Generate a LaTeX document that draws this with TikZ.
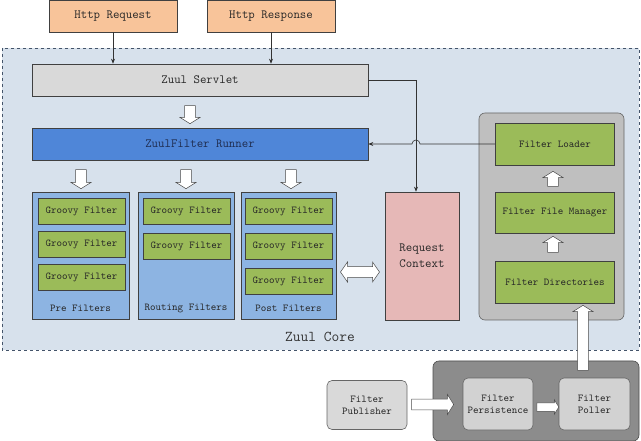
\documentclass[tikz,border=0pt]{standalone}
\usepackage{fontspec}
\usetikzlibrary{arrows.meta,shapes.arrows,positioning}

\definecolor{reqorange}{HTML}{F8C49A}
\definecolor{corebg}{HTML}{D7E1EC}
\definecolor{corefg}{HTML}{44546A}
\definecolor{servgray}{HTML}{D9D9D9}
\definecolor{runnerblue}{HTML}{4F86D8}
\definecolor{runnertext}{HTML}{1F2D50}
\definecolor{groupblue}{HTML}{8DB4E2}
\definecolor{groovygreen}{HTML}{9BBB59}
\definecolor{ctxpink}{HTML}{E6B8B7}
\definecolor{loadergray}{HTML}{BFBFBF}
\definecolor{pollgray}{HTML}{8C8C8C}
\definecolor{pubgray}{HTML}{D9D9D9}
\definecolor{persgray}{HTML}{D2D2D2}

\tikzset{
  box/.style={draw=black!75, line width=0.6pt, inner sep=0pt, text=black!85,
    font=\ttfamily\fontsize{10.5}{12}\selectfont},
  bigtext/.style={font=\ttfamily\fontsize{12.5}{16}\selectfont},
  greenbox/.style={box, fill=groovygreen, minimum width=87, minimum height=26},
  groupbox/.style={box, fill=groupblue, minimum height=127},
  softbox/.style={box, rounded corners=5, draw=black!60, align=center},
  harrow/.style={draw=black!70, fill=white, inner sep=5pt, line width=0.5pt},
  hollow/.style={harrow, single arrow, minimum width=20, single arrow head extend=4.5,
    single arrow tip angle=116},
  link/.style={-{Stealth[length=5pt,width=4pt]}, line width=0.6pt, draw=black!80},
}

\begin{document}
\begin{tikzpicture}[x=1pt,y=-1pt]
\useasboundingbox (0,0) rectangle (641,441);
% zuul core frame
\draw[dashed, draw=corefg, fill=corebg, line width=0.6pt] (2,48) rectangle (639,350);
\node[font=\ttfamily\fontsize{15}{17}\selectfont, text=black!80] (corelabel) at (320,337) {Zuul Core};

% http boxes
\node[box, bigtext, fill=reqorange, minimum width=128, minimum height=32] (request) at (113,16) {Http Request};
\node[box, bigtext, fill=reqorange, minimum width=128, minimum height=32] (response) at (271,16) {Http Response};

\node[box, bigtext, fill=servgray, minimum width=336, minimum height=32] (servlet) at (200,80) {Zuul Servlet};
\node[box, bigtext, fill=runnerblue, text=runnertext, minimum width=336, minimum height=32] (runner) at (200,144) {ZuulFilter Runner};

\draw[link] (request.south) -- (request.south |- servlet.north);
\draw[link] (response.south) -- (response.south |- servlet.north);

\node[hollow, shape border rotate=270, minimum height=18] (downrun) at (190,113) {};
\foreach \x in {81,186,291} % arrows into the filter groups
\node[hollow, shape border rotate=270, minimum height=19] at (\x,177.5) {};

% filter groups
\node[groupbox, minimum width=97] (pre) at (80.5,255.5) {};
\node[groupbox, minimum width=96] (routing) at (186,255.5) {};
\node[groupbox, minimum width=95] (post) at (288.5,255.5) {};
\foreach \y in {211,244.5,277}
\node[greenbox] at (81.5,\y) {Groovy Filter};
\foreach \y in {211,246}
\node[greenbox] at (186.5,\y) {Groovy Filter};
\foreach \y in {211,246,281}
\node[greenbox] at (288.5,\y) {Groovy Filter};
\node[box, draw=none] (prelabel) at (80.5,308) {Pre Filters};
\node[box, draw=none] (routinglabel) at (186,308) {Routing Filters};
\node[box, draw=none] (postlabel) at (288.5,308) {Post Filters};

\node[harrow, double arrow, minimum width=20, minimum height=39, double arrow head extend=4.5,
  double arrow tip angle=110] (swap) at (360,272) {};

\node[box, bigtext, fill=ctxpink, minimum width=74, minimum height=128, align=center] (context) at (422,256) {Request\\Context};
\draw[link] (servlet.east) -| ([xshift=-6pt]context.north);

% filter loading
\node[box, rounded corners=6, draw=black!60, fill=loadergray, minimum width=145, minimum height=207] (loaderbox) at (551.5,216.5) {};
\node[box, fill=groovygreen, minimum width=119, minimum height=42] (loader) at (555,144) {Filter Loader};
\node[box, fill=groovygreen, minimum width=119, minimum height=41] (manager) at (555,212.5) {Filter File Manager};
\node[box, fill=groovygreen, minimum width=119, minimum height=42] (directories) at (555,282) {Filter Directories};
\node[hollow, shape border rotate=90, minimum height=15] (upload) at (553,180.5) {};
\node[hollow, shape border rotate=90, minimum height=16] (upman) at (553,246) {};
\draw[link] (loader.west) -- (420,144) arc[start angle=0, end angle=-180, radius=4] -- (runner.east);

% publishing and polling
\node[box, rounded corners=6, draw=black!70, fill=pollgray, minimum width=206, minimum height=80] (pollbox) at (536,401) {};
\node[softbox, fill=pubgray, minimum width=80, minimum height=49] (publisher) at (367,405) {Filter\\Publisher};
\node[softbox, fill=persgray, minimum width=70, minimum height=52] (persistence) at (498,404) {Filter\\Persistence};
\node[softbox, fill=persgray, minimum width=71, minimum height=52] (poller) at (594.5,404) {Filter\\Poller};
\node[hollow, minimum height=42] (pubarrow) at (431,404.5) {};
\node[hollow, inner sep=4pt, minimum width=14, single arrow head extend=3, minimum height=22] (persarrow) at (546.5,407) {};
\node[hollow, shape border rotate=90, minimum height=65] (pollarrow) at (583,339.5) {};
\end{tikzpicture}
\end{document}
